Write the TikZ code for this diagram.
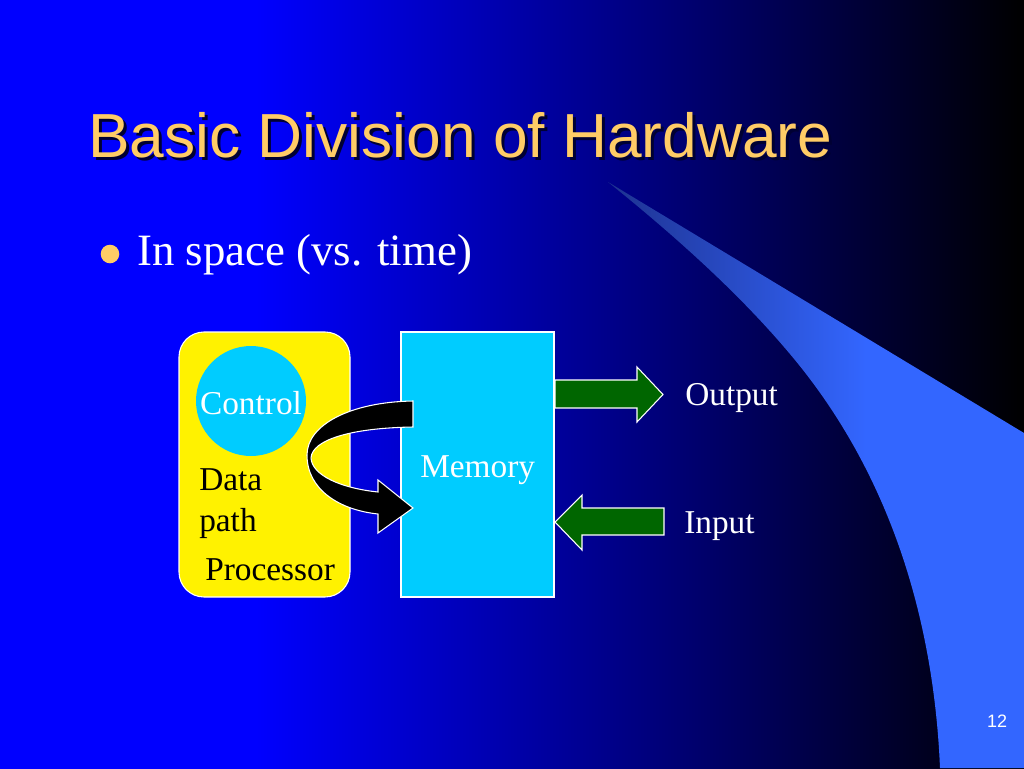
\documentclass[tikz,border=0pt]{standalone}
\usepackage{fontspec}
\setmainfont{Liberation Serif}
\newfontfamily\arialf{Liberation Sans}
\definecolor{titlec}{HTML}{FFCC66}
\definecolor{cyanc}{HTML}{00CCFF}
\definecolor{greenc}{HTML}{006600}
\definecolor{swA}{HTML}{1E3290}
\definecolor{swB}{HTML}{3366FF}
\definecolor{bgblue}{HTML}{0000FF}
\definecolor{shadowc}{HTML}{000033}
\pgfdeclarehorizontalshading{bgshade}{100bp}{color(0bp)=(bgblue); color(37.5bp)=(bgblue); color(75bp)=(black); color(100bp)=(black)}
\pgfdeclarehorizontalshading{swshade}{100bp}{color(0bp)=(swA); color(25bp)=(swA); color(56bp)=(swB); color(100bp)=(swB)}
\tikzset{
  lbl/.style={inner sep=0pt, anchor=base west, text=white, font=\fontsize{25}{30}\selectfont},
  blockarrow/.style={fill=greenc, draw=white, line width=0.8pt, line join=miter},
}
\begin{document}
\begin{tikzpicture}[x=0.75pt,y=-0.75pt]
\useasboundingbox (0,0) rectangle (1024,768);
% background
\shade[shading=bgshade] (0,0) rectangle (1024,768);
% swoosh
\shade[shading=swshade] (608,182) -- (1024,433) -- (1024,768) -- (940,768)
  .. controls (935,650) and (905,500) .. (803,370)
  .. controls (750,303) and (680,240) .. (608,182) -- cycle;
% title with shadow
\node[inner sep=0pt, anchor=base west, text=shadowc, font=\arialf\fontsize{46.7}{56}\selectfont] (titleshadow) at (91,160) {Basic Division of Hardware};
\node[inner sep=0pt, anchor=base west, text=titlec, font=\arialf\fontsize{46.7}{56}\selectfont] (title) at (88,157) {Basic Division of Hardware};
% bullet
\fill[titlec] (110,254) circle[radius=9.3];
\node[inner sep=0pt, anchor=base west, text=white, font=\fontsize{33.6}{40}\selectfont] (bullet) at (137,265) {In space (vs. time)};
% processor
\draw[fill=yellow, draw=white, line width=0.8pt, rounded corners=18.75pt] (179,332) rectangle (350,597);
% memory
\draw[fill=cyanc, draw=white, line width=0.8pt] (401,332) rectangle (554,597);
% control
\node[circle, fill=cyanc, minimum size=82.5pt, inner sep=0pt] (control) at (251,401) {};
\node[lbl, anchor=base] (controltxt) at (251,414) {Control};
% labels
\node[lbl, text=black] (data) at (199,490) {Data};
\node[lbl, text=black] (path) at (199,531) {path};
\node[lbl, text=black] (processor) at (205,580) {Processor};
\node[lbl] (memory) at (420,477) {Memory};
\node[lbl] (output) at (685,405) {Output};
\node[lbl] (input) at (684,533) {Input};
% curved arrow
\draw[fill=black, draw=white, line width=0.8pt, line join=miter]
  (413,401) .. controls (350,402) and (307,425) .. (307,455)
  .. controls (307,490) and (340,510) .. (378,514)
  -- (378,533) -- (413,508) -- (378,480) -- (378,492)
  .. controls (340,488) and (312,475) .. (311,458)
  .. controls (312,440) and (350,428) .. (413,427) -- cycle;
% output arrow
\draw[blockarrow] (555,380) -- (637,380) -- (637,367) -- (663,394.5) -- (637,422) -- (637,408) -- (555,408) -- cycle;
% input arrow
\draw[blockarrow] (664,508) -- (582,508) -- (582,495) -- (555,522) -- (582,550) -- (582,535) -- (664,535) -- cycle;
% page number
\node[inner sep=0pt, anchor=base, text=white, font=\arialf\fontsize{13.5}{16}\selectfont] (pagenum) at (997,727) {12};
\end{tikzpicture}
\end{document}
